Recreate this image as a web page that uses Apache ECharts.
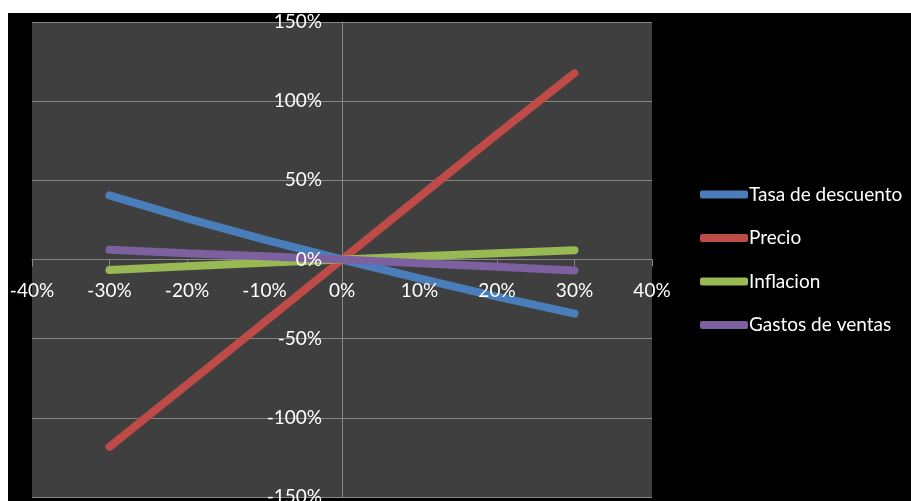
<!DOCTYPE html>
<html>
<head>
<meta charset="utf-8">
<script src="https://cdn.jsdelivr.net/npm/echarts@6/dist/echarts.min.js"></script>
<style>
html,body{margin:0;padding:0;background:#ffffff;width:911px;height:501px;overflow:hidden;}
#chart{position:absolute;left:8px;top:13px;width:903px;height:488px;background:#000000;}
</style>
</head>
<body>
<div id="chart"></div>
<script>
const xValues = [-30, -20, -10, 0, 10, 20, 30];
const tasaDescuento = [40.5, 26, 12.5, 0, -12, -23.5, -34.2];
const precio = [-118.3, -79, -39.5, 0, 39.5, 79, 117.7];
const inflacion = [-6.7, -4.3, -2.1, 0, 2, 4, 5.9];
const gastosVentas = [6.1, 4, 2, 0, -2.3, -4.6, -6.9];
const seriesNames = ['Tasa de descuento', 'Precio', 'Inflacion', 'Gastos de ventas'];
const seriesColors = ['#4A7EBB', '#BE4B48', '#98B954', '#7D60A0'];
const seriesValues = [tasaDescuento, precio, inflacion, gastosVentas];

const font = 'Lato, "Open Sans", sans-serif';
const gridColor = '#868686';
const xBase = {type: 'value', min: -40, max: 40, interval: 10, position: 'bottom', offset: -237.5};
const yBase = {type: 'value', min: -150, max: 150, interval: 50, position: 'left', offset: -310};
const chart = echarts.init(document.getElementById('chart'));
chart.setOption({
  backgroundColor: '#000000',
  animation: false,
  grid: {left: 24, right: 259, top: 9, bottom: 4, show: true, backgroundColor: '#3F3F3F', borderWidth: 0, containLabel: false, outerBoundsMode: 'none'},
  xAxis: [
    Object.assign({}, xBase, {
      z: 0,
      axisLine: {show: true, onZero: false, lineStyle: {color: gridColor, width: 1}},
      axisTick: {show: true, length: 7, lineStyle: {color: gridColor}},
      splitLine: {show: false},
      axisLabel: {show: false}
    }),
    Object.assign({}, xBase, {
      z: 3,
      axisLine: {show: false}, axisTick: {show: false}, splitLine: {show: false},
      axisLabel: {color: '#ffffff', fontSize: 19, fontFamily: font, margin: 22, formatter: '{value}%', showMinLabel: true, showMaxLabel: true}
    })
  ],
  yAxis: [
    Object.assign({}, yBase, {
      z: 0,
      axisLine: {show: true, onZero: false, lineStyle: {color: gridColor, width: 1}},
      axisTick: {show: false},
      splitLine: {show: true, lineStyle: {color: gridColor, width: 1}},
      axisLabel: {show: false}
    }),
    Object.assign({}, yBase, {
      z: 3,
      axisLine: {show: false}, axisTick: {show: false}, splitLine: {show: false},
      axisLabel: {color: '#ffffff', fontSize: 19, fontFamily: font, margin: 20, formatter: '{value}%', showMinLabel: true, showMaxLabel: true}
    })
  ],
  legend: {
    orient: 'vertical', left: 692, top: 172, itemGap: 24.5, padding: 0,
    itemWidth: 48, itemHeight: 8, icon: 'roundRect',
    textStyle: {color: '#ffffff', fontSize: 19, fontFamily: font, padding: [0, 0, 0, -4]},
    data: seriesNames
  },
  series: seriesNames.map((name, i) => ({
    name: name, type: 'line', showSymbol: false, symbol: 'none', z: 2,
    xAxisIndex: 0, yAxisIndex: 0,
    color: seriesColors[i],
    lineStyle: {width: 8, cap: 'round', color: seriesColors[i]},
    itemStyle: {color: seriesColors[i]},
    data: xValues.map((x, j) => [x, seriesValues[i][j]])
  }))
});
</script>
</body>
</html>
